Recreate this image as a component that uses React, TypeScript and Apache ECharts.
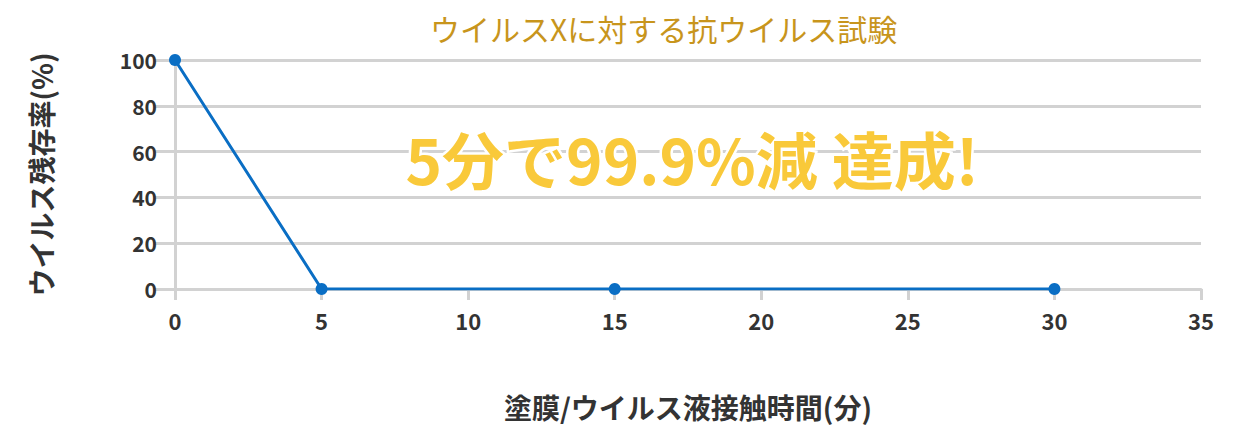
import * as echarts from 'echarts';
import React, { useEffect, useRef } from 'react';

// 接触時間(分)とウイルス残存率(%)
const times = [0, 5, 15, 30];
const survival = [100, 0, 0, 0];

const chartTitle = 'ウイルスXに対する抗ウイルス試験';
const xName = '塗膜/ウイルス液接触時間(分)';
const yName = 'ウイルス残存率(%)';
const callout = '5分で99.9%減 達成!';

const FONT = '"Noto Sans CJK JP", "Noto Sans", sans-serif';
const GRID_COLOR = '#d2d2d2';

export default function App() {
  const chartRef = useRef<HTMLDivElement>(null);

  useEffect(() => {
    if (!chartRef.current) return;
    const chart = echarts.init(chartRef.current, null, { renderer: 'svg' });

    const option = {
      animation: false,
      textStyle: { fontFamily: FONT },
      title: {
        text: chartTitle,
        left: 425,
        top: 8,
        textStyle: {
          color: '#c8951c',
          fontSize: 30,
          fontWeight: 'normal',
          fontFamily: FONT,
        },
      },
      grid: {
        left: 175,
        right: 35,
        top: 60,
        bottom: 157,
        containLabel: false,
      },
      xAxis: {
        type: 'value',
        min: 0,
        max: 35,
        interval: 5,
        name: xName,
        nameLocation: 'middle',
        nameGap: 104,
        nameTextStyle: {
          color: '#333',
          fontSize: 28,
          fontWeight: 'bold',
          fontFamily: FONT,
        },
        axisLine: { show: true, lineStyle: { color: GRID_COLOR, width: 3 } },
        axisTick: { show: true, length: 11, lineStyle: { color: GRID_COLOR, width: 3 } },
        axisLabel: {
          color: '#333',
          fontSize: 22,
          fontWeight: 'bold',
          margin: 20,
          fontFamily: FONT,
        },
        splitLine: { show: false },
      },
      yAxis: {
        type: 'value',
        min: 0,
        max: 100,
        interval: 20,
        name: yName,
        nameLocation: 'middle',
        nameGap: 120,
        nameRotate: 90,
        nameTextStyle: {
          color: '#333',
          fontSize: 28,
          fontWeight: 'bold',
          fontFamily: FONT,
        },
        axisLine: { show: true, lineStyle: { color: GRID_COLOR, width: 3 } },
        axisTick: { show: true, length: 20, lineStyle: { color: GRID_COLOR, width: 3 } },
        axisLabel: {
          color: '#333',
          fontSize: 21,
          fontWeight: 'bold',
          margin: 18,
          fontFamily: FONT,
        },
        splitLine: { show: true, lineStyle: { color: GRID_COLOR, width: 3 } },
      },
      series: [
        {
          type: 'line',
          data: times.map((t, i) => [t, survival[i]]),
          symbol: 'circle',
          symbolSize: 12,
          itemStyle: { color: '#0a6ec4' },
          lineStyle: { color: '#0a6ec4', width: 3 },
          z: 5,
        },
      ],
      graphic: [
        {
          type: 'text',
          left: 403,
          top: 124,
          z: 10,
          style: {
            text: callout,
            fill: '#f9c93a',
            fontSize: 62,
            fontWeight: 'bold',
            fontFamily: FONT,
            stroke: '#ffffff',
            lineWidth: 5,
          },
        },
      ],
    };

    chart.setOption(option);

    const resizeHandler = () => chart.resize();
    window.addEventListener('resize', resizeHandler);
    return () => {
      window.removeEventListener('resize', resizeHandler);
      chart.dispose();
    };
  }, []);

  return (
    <div style={{ width: 1236, height: 446, margin: -8, background: '#fff' }}>
      <div ref={chartRef} style={{ width: 1236, height: 446 }} />
    </div>
  );
}
